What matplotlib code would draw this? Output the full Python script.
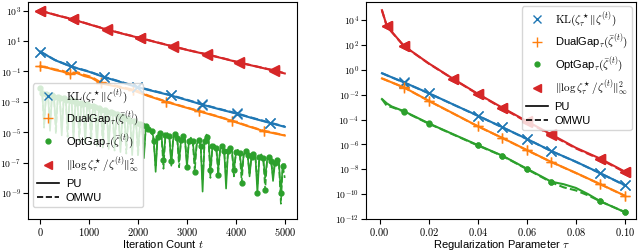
import numpy as np
import matplotlib
matplotlib.use('Agg')
import matplotlib.pyplot as plt
from matplotlib.lines import Line2D
from matplotlib.ticker import FuncFormatter, NullLocator

plt.rcParams['font.family'] = ['Liberation Sans', 'DejaVu Sans']
plt.rcParams['mathtext.fontset'] = 'cm'
plt.rcParams['font.size'] = 8
plt.rcParams['xtick.labelsize'] = 7.5
plt.rcParams['ytick.labelsize'] = 7

# ---- left panel: convergence over iterations (log10 values)
iter_red = [0, 330, 660, 1000, 1360, 1700, 2050, 2400, 2720, 3050, 3420, 3750, 4060, 4400, 4780, 5000]
red_pu = [3.0, 2.7, 2.43, 2.1, 1.76, 1.47, 1.19, 0.9, 0.64, 0.38, 0.11, -0.15, -0.41, -0.66, -0.94, -1.13]
red_om = [3.0, 2.71, 2.44, 2.11, 1.77, 1.48, 1.2, 0.91, 0.65, 0.39, 0.12, -0.14, -0.4, -0.65, -0.93, -1.12]

iter_kl = [0, 300, 625, 1000, 1306, 1650, 1973, 2300, 2667, 3000, 3313, 3650, 4014, 4350, 4694, 5000]
kl_pu = [0.31, -0.25, -0.67, -1.02, -1.37, -1.7, -2.02, -2.28, -2.57, -2.88, -3.18, -3.47, -3.77, -4.08, -4.38, -4.64]
kl_om = [0.31, -0.24, -0.66, -1.0, -1.35, -1.68, -2.0, -2.26, -2.55, -2.86, -3.16, -3.45, -3.75, -4.06, -4.36, -4.62]

iter_dg = [0, 150, 300, 450, 600, 750, 900, 1050, 1240, 1500, 1900, 2200, 2580, 2900, 3250, 3600, 3920, 4250, 4580, 5000]
dg_pu = [-0.67, -0.75, -0.9, -1.0, -1.18, -1.1, -1.3, -1.42, -1.78, -1.95, -2.24, -2.6, -3.0, -3.3, -3.62, -3.94, -4.25, -4.6, -4.93, -5.21]
dg_om = [-0.67, -0.74, -0.86, -0.95, -1.12, -1.04, -1.22, -1.36, -1.72, -1.9, -2.2, -2.57, -2.98, -3.28, -3.6, -3.92, -4.23, -4.58, -4.91, -5.19]

iter_opt = np.arange(0, 5001, 40)
opt_pu = [-2.06, -2.3, -4.4, -2.45, -2.5, -4.9, -2.55, -2.6, -4.6, -2.65, -2.7, -5.2, -2.75, -2.8, -4.8,
          -2.85, -2.9, -5.5, -2.95, -3.0, -5.0, -3.05, -3.1, -5.7, -3.15, -3.2, -5.2, -3.25, -3.3, -5.9,
          -3.4, -3.45, -5.4, -3.5, -3.6, -6.1, -3.65, -3.7, -5.7, -3.8, -3.85, -6.3, -3.95, -4.0, -5.9,
          -4.1, -4.2, -6.5, -4.25, -4.35, -6.2, -4.45, -4.5, -6.7, -4.6,
          -4.7, -4.8, -4.9, -5.4, -7.6, -5.3, -5.0, -5.2, -6.8, -5.3, -5.05, -5.25, -7.2, -5.4, -5.1, -5.3,
          -6.9, -5.5, -5.2, -5.45, -7.3, -5.6, -5.35, -5.6, -7.0, -5.8, -5.5, -5.8, -8.9, -5.6, -5.15, -5.3,
          -7.5, -6.0, -5.8, -6.0, -7.4, -6.1, -5.9, -6.1, -8.7, -6.2, -6.0, -6.2, -7.5, -6.4, -6.15, -6.35,
          -7.6, -6.5, -6.25, -6.45, -7.9, -6.6, -6.35, -6.55, -9.0, -6.7, -6.45, -6.7, -8.0, -6.8, -6.6, -6.8,
          -8.2, -7.0, -6.75, -6.95, -9.0, -7.1, -7.1]
opt_om = [-2.06, -2.4, -4.7, -2.5, -2.55, -4.5, -2.6, -2.65, -5.1, -2.7, -2.75, -4.7, -2.8, -2.85, -5.3,
          -2.9, -2.95, -5.0, -3.0, -3.05, -5.6, -3.1, -3.15, -5.2, -3.2, -3.25, -5.8, -3.3, -3.35, -5.3,
          -3.45, -3.5, -6.0, -3.55, -3.65, -5.6, -3.7, -3.75, -6.2, -3.85, -3.9, -5.8, -4.0, -4.05, -6.4,
          -4.15, -4.25, -6.0, -4.3, -4.4, -6.6, -4.5, -4.55, -6.3, -4.65,
          -4.75, -4.85, -5.0, -5.6, -7.2, -5.2, -5.05, -5.3, -7.4, -5.2, -5.1, -5.35, -6.9, -5.3, -5.15, -5.4,
          -7.3, -5.4, -5.25, -5.5, -7.0, -5.55, -5.4, -5.7, -7.6, -5.7, -5.55, -5.9, -8.2, -5.7, -5.3, -5.45,
          -8.0, -5.9, -5.85, -6.1, -7.8, -6.0, -5.95, -6.2, -8.0, -6.3, -6.05, -6.3, -7.9, -6.3, -6.2, -6.45,
          -8.3, -6.45, -6.3, -6.5, -7.7, -6.55, -6.4, -6.65, -8.4, -6.6, -6.5, -6.8, -8.8, -6.7, -6.65, -6.9,
          -7.9, -6.9, -6.8, -7.05, -9.7, -7.2, -8.0]

# ---- right panel: final values vs regularization parameter
tau_red = [0.001, 0.003, 0.01, 0.02, 0.03, 0.04, 0.05, 0.06, 0.07, 0.08, 0.09, 0.1]
red2_pu = [4.8, 3.52, 1.92, 0.53, -0.72, -1.92, -3.04, -4.13, -5.2, -6.27, -7.15, -8.19]
red2_om = [4.78, 3.5, 1.9, 0.51, -0.74, -1.95, -3.08, -4.18, -5.25, -6.32, -7.2, -8.24]

tau = [0.001, 0.01, 0.02, 0.03, 0.04, 0.05, 0.06, 0.07, 0.08, 0.09, 0.1]
kl2_pu = [-0.27, -1.01, -1.87, -2.78, -3.68, -4.61, -5.55, -6.53, -7.39, -8.32, -9.28]
kl2_om = [-0.27, -1.02, -1.88, -2.79, -3.69, -4.62, -5.56, -6.54, -7.4, -8.33, -9.29]
dg2_pu = [-0.69, -1.41, -2.48, -3.5, -4.53, -5.47, -6.45, -7.41, -8.29, -9.2, -10.13]
dg2_om = [-0.69, -1.42, -2.49, -3.51, -4.54, -5.48, -6.46, -7.42, -8.3, -9.21, -10.14]

tau_opt = [0.001, 0.003, 0.005, 0.01, 0.02, 0.03, 0.04, 0.05, 0.06, 0.07, 0.075, 0.08, 0.085, 0.09, 0.1]
opt2_pu = [-2.35, -2.7, -2.95, -3.33, -4.3, -5.18, -6.05, -6.9, -7.95, -9.0, -9.2, -9.5, -10.0, -10.58, -11.45]
opt2_om = [-2.35, -2.9, -3.0, -3.36, -4.32, -5.2, -6.08, -6.92, -7.98, -9.05, -9.45, -9.7, -10.1, -10.58, -11.45]

C_KL, C_DG, C_OPT, C_RED = 'tab:blue', 'tab:orange', 'tab:green', 'tab:red'
lab_kl = r'$\mathrm{KL}(\zeta_\tau^\star\|\zeta^{(t)})$'
lab_dg = r'DualGap$_\tau(\bar{\zeta}^{(t)})$'
lab_opt = r'OptGap$_\tau(\bar{\zeta}^{(t)})$'
lab_red = r'$\|\log\zeta_\tau^\star/\zeta^{(t)}\|_\infty^2$'


def p10(v):
    return 10.0 ** np.asarray(v)


fig = plt.figure(figsize=(6.4, 2.52), dpi=100)
ax1 = fig.add_axes([28 / 640, 33 / 252, 269 / 640, 217 / 252])
ax2 = fig.add_axes([366 / 640, 33 / 252, 270 / 640, 217 / 252])

# left
ax1.plot(iter_opt, p10(opt_pu), '-', color=C_OPT, lw=1.2, marker='o', ms=3.5, markevery=3)
ax1.plot(iter_opt, p10(opt_om), '--', color=C_OPT, lw=1.2, marker='o', ms=3.5, markevery=(1, 3))
mk_dg = [0, 4, 8, 10, 12, 14, 16, 18]
ax1.plot(iter_dg, p10(dg_pu), '-', color=C_DG, lw=1.5, marker='+', ms=7, markevery=mk_dg)
ax1.plot(iter_dg, p10(dg_om), '--', color=C_DG, lw=1.5, marker='+', ms=7, markevery=mk_dg)
mk = [0, 2, 4, 6, 8, 10, 12, 14]
ax1.plot(iter_kl, p10(kl_pu), '-', color=C_KL, lw=1.5, marker='x', ms=6.5, markevery=mk)
ax1.plot(iter_kl, p10(kl_om), '--', color=C_KL, lw=1.5, marker='x', ms=6.5, markevery=mk)
ax1.plot(iter_red, p10(red_pu), '-', color=C_RED, lw=1.5, marker='<', ms=6.5, markevery=mk)
ax1.plot(iter_red, p10(red_om), '--', color=C_RED, lw=1.5, marker='<', ms=6.5, markevery=mk)

# right
mk_red = [1, 2, 4, 5, 6, 7, 8, 10, 11]
ax2.plot(tau_red, p10(red2_pu), '-', color=C_RED, lw=1.5, marker='<', ms=6.5, markevery=mk_red)
ax2.plot(tau_red, p10(red2_om), '--', color=C_RED, lw=1.5, marker='<', ms=6.5, markevery=mk_red)
mk2 = [1, 2, 4, 5, 6, 7, 9, 10]
ax2.plot(tau, p10(kl2_pu), '-', color=C_KL, lw=1.5, marker='x', ms=6.5, markevery=mk2)
ax2.plot(tau, p10(kl2_om), '--', color=C_KL, lw=1.5, marker='x', ms=6.5, markevery=mk2)
ax2.plot(tau, p10(dg2_pu), '-', color=C_DG, lw=1.5, marker='+', ms=7, markevery=mk2)
ax2.plot(tau, p10(dg2_om), '--', color=C_DG, lw=1.5, marker='+', ms=7, markevery=mk2)
mk_opt = [3, 4, 6, 7, 8, 9, 13, 14]
ax2.plot(tau_opt, p10(opt2_pu), '-', color=C_OPT, lw=1.5, marker='o', ms=3.5, markevery=mk_opt)
ax2.plot(tau_opt, p10(opt2_om), '--', color=C_OPT, lw=1.5, marker='o', ms=3.5, markevery=mk_opt)

logfmt = FuncFormatter(lambda v, pos: r'$10^{%d}$' % int(round(np.log10(v))))
for ax in (ax1, ax2):
    ax.set_yscale('log')
    ax.yaxis.set_major_formatter(logfmt)
    ax.yaxis.set_minor_locator(NullLocator())
    ax.tick_params(axis='y', pad=1.5)
    ax.tick_params(axis='x', pad=1.5)

ax1.set_xlim(-250, 5250)
ax1.set_ylim(10 ** -10.7, 10 ** 3.57)
ax1.set_yticks([10.0 ** k for k in range(-9, 4, 2)])
ax1.set_xticks([0, 1000, 2000, 3000, 4000, 5000])
ax1.xaxis.set_major_formatter(FuncFormatter(lambda v, pos: r'$%d$' % v))
ax1.set_xlabel(r'Iteration Count $t$')
ax1.xaxis.set_label_coords(0.5, -0.088)

ax2.set_xlim(-0.0055, 0.1045)
ax2.set_ylim(1e-12, 10 ** 5.46)
ax2.set_yticks([10.0 ** k for k in range(-12, 5, 2)])
ax2.set_xticks([0, 0.02, 0.04, 0.06, 0.08, 0.1])
ax2.xaxis.set_major_formatter(FuncFormatter(lambda v, pos: r'$%.2f$' % v))
ax2.set_xlabel(r'Regularization Parameter $\tau$')
ax2.xaxis.set_label_coords(0.5, -0.088)

handles = [
    Line2D([], [], ls='none', marker='x', ms=6, color=C_KL, label=lab_kl),
    Line2D([], [], ls='none', marker='+', ms=7, color=C_DG, label=lab_dg),
    Line2D([], [], ls='none', marker='o', ms=3.5, color=C_OPT, label=lab_opt),
    Line2D([], [], ls='none', marker='<', ms=6, color=C_RED, label=lab_red),
    Line2D([], [], ls='-', color='k', lw=1.2, label='PU'),
    Line2D([], [], ls='--', color='k', lw=1.2, label='OMWU'),
]
leg_kw = dict(fontsize=8, labelspacing=0.4, handletextpad=0.6, borderpad=0.35)
ax1.legend(handles=handles, loc='lower left', bbox_to_anchor=(0.0185, 0.055),
           borderaxespad=0, **leg_kw)
ax2.legend(handles=handles, loc='upper right', borderaxespad=0.4, **leg_kw)

fig.savefig('out.png', dpi=100)
